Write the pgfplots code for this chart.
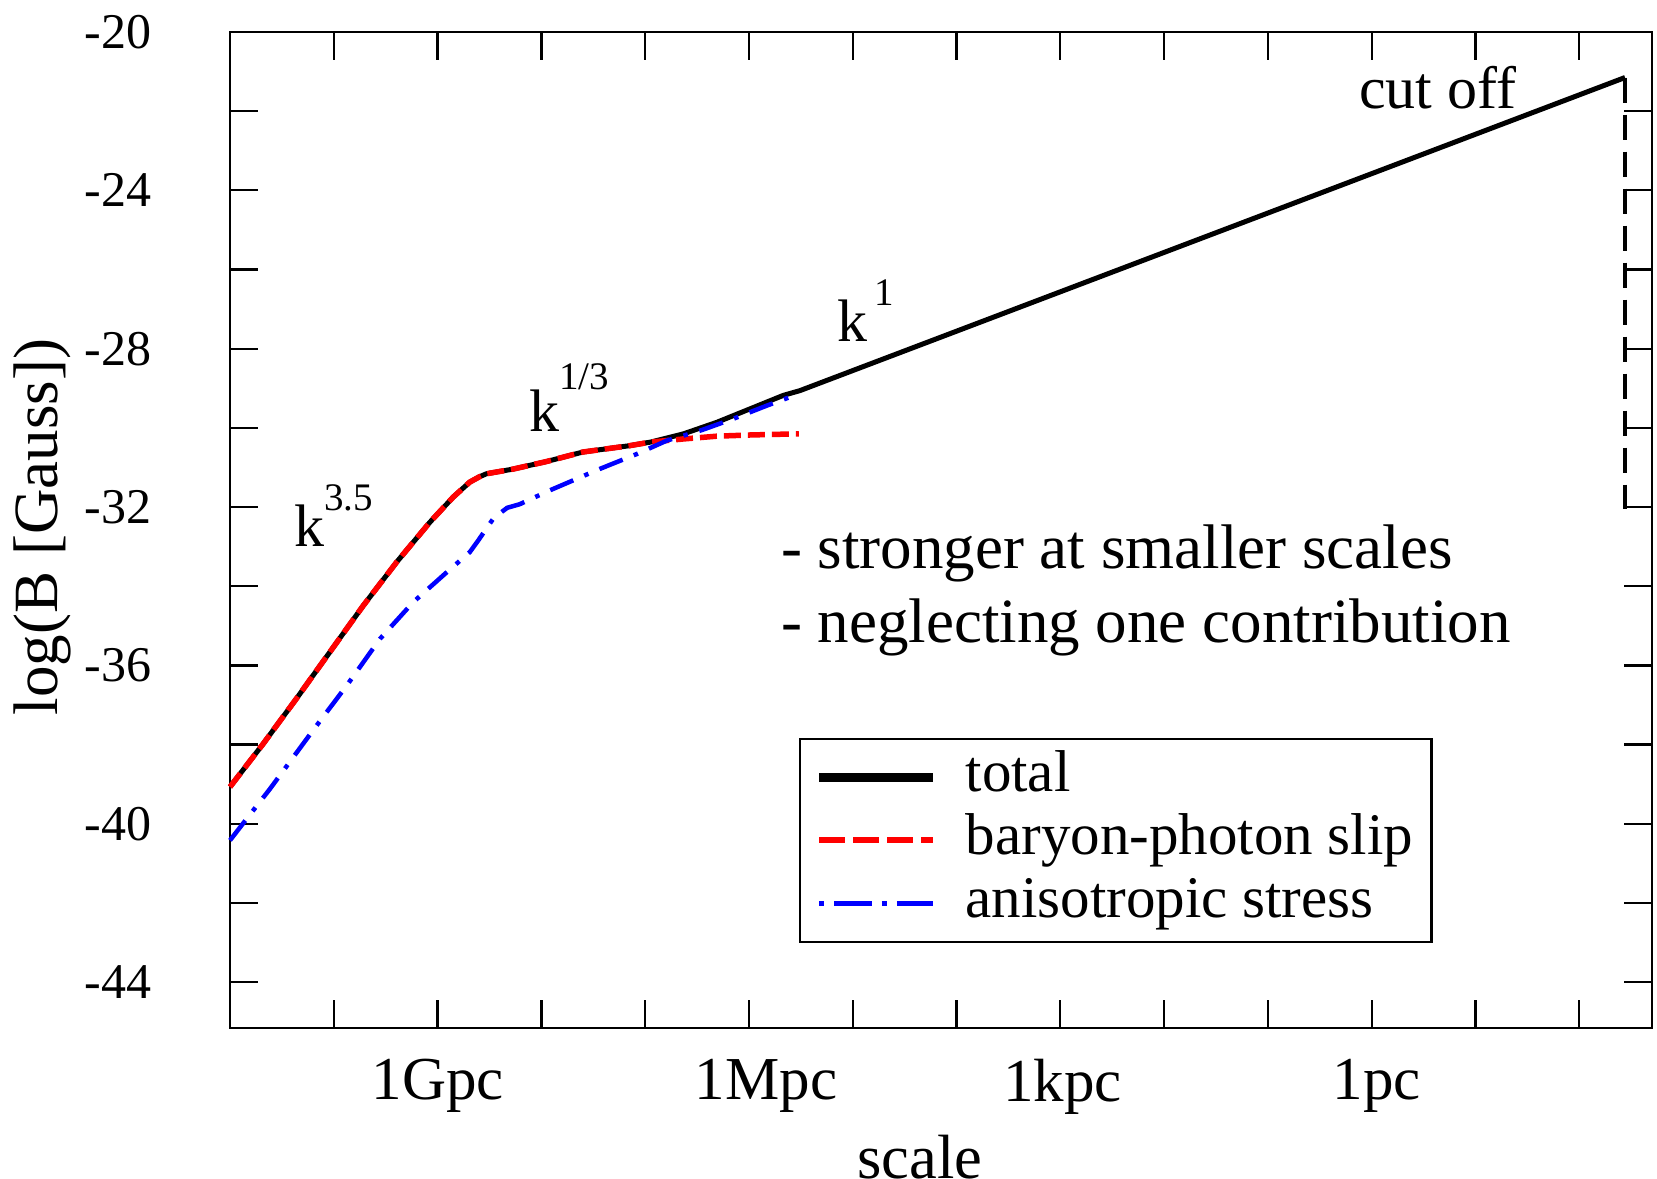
\documentclass[border=0pt]{standalone}
\usepackage{pgfplots}
\pgfplotsset{compat=1.18}
\usepackage{fontspec}
\setmainfont{Liberation Serif}

\begin{document}
\fontsize{12bp}{14bp}\selectfont
\begin{tikzpicture}
\useasboundingbox (-46bp,-30.2bp) rectangle (285.4bp,205.6bp);
\begin{axis}[
  at={(0,0)}, anchor=south west,
  scale only axis, width=284.4bp, height=199.2bp,
  xmin=0, xmax=13.7, ymin=-45.16, ymax=-20,
  clip=false,
  axis line style={line width=0.45bp},
  every tick/.style={black, line width=0.45bp},
  major tick length=5.6bp, minor tick length=5.6bp,
  tick align=inside,
  xtick={1,...,13},
  xticklabels={{},1Gpc\hspace{1.7bp},{},{},\hspace{6.8bp}1Mpc,{},{},\hspace{0.8bp}1kpc,{},{},\hspace{2bp}1pc,{},{}},
  ytick={-44,-40,-36,-32,-28,-24,-20},
  yticklabels={-44,-40,-36,-32,-28,-24,-20},
  minor ytick={-42,-38,-34,-30,-26,-22},
  x tick label style={font=\fontsize{12.2bp}{14bp}\selectfont, yshift=-2bp},
  y tick label style={font=\fontsize{10bp}{12bp}\selectfont, xshift=-11.5bp},
  xlabel={scale},
  xlabel style={at={(axis description cs:0.485,-0.1295)}, anchor=center, font=\fontsize{12.5bp}{14bp}\selectfont},
  ylabel={log(B [Gauss])},
  ylabel style={at={(axis description cs:-0.1322,0.503)}, anchor=center, font=\fontsize{12.6bp}{14bp}\selectfont},
  legend style={at={(axis description cs:0.400,0.0853)}, anchor=south west,
    draw=black, line width=0.45bp, inner xsep=3bp, inner ysep=1.4bp,
    row sep=0pt, font=\fontsize{11.8bp}{13bp}\selectfont,
    nodes={inner sep=0.7bp, text height=8.4bp, text depth=2.8bp}},
  legend cell align=left,
]

% total
\addplot[black, line width=1bp,
  legend image code/.code={\draw[black, line width=1.8bp] (0bp,0bp) -- (22.8bp,0bp); \path (28bp,0bp);}]
coordinates {
(0,-39.07) (0.32,-37.98) (0.64,-36.84) (0.963,-35.66) (1.284,-34.49) (1.606,-33.39)
(1.927,-32.38) (2.15,-31.75) (2.31,-31.37) (2.40,-31.24) (2.47,-31.16) (2.73,-31.04)
(3.05,-30.85) (3.40,-30.61) (3.85,-30.45) (4.05,-30.36) (4.37,-30.15) (4.69,-29.86)
(5.01,-29.52) (5.33,-29.18) (5.49,-29.06) (13.44,-21.15)
};
\addlegendentry{total}

% baryon-photon slip
\addplot[red, line width=1.1bp, dash pattern=on 3.4bp off 1.4bp,
  legend image code/.code={\draw[red, line width=1.2bp, dash pattern=on 5.2bp off 1.6bp] (0bp,0bp) -- (22.8bp,0bp); \path (28bp,0bp);}]
coordinates {
(0,-39.07) (0.32,-37.98) (0.64,-36.84) (0.963,-35.66) (1.284,-34.49) (1.606,-33.39)
(1.927,-32.38) (2.15,-31.75) (2.31,-31.37) (2.40,-31.24) (2.47,-31.16) (2.73,-31.04)
(3.05,-30.85) (3.40,-30.61) (3.85,-30.45) (4.05,-30.36) (4.37,-30.28) (4.69,-30.21)
(5.01,-30.18) (5.48,-30.15)
};
\addlegendentry{baryon-photon slip}

% anisotropic stress
\addplot[blue, line width=0.9bp, dash pattern=on 5bp off 2.4bp on 0.9bp off 2.4bp,
  legend image code/.code={\draw[blue, line width=1bp, dash pattern=on 1bp off 2bp on 7.5bp off 2bp] (0bp,0bp) -- (22.8bp,0bp); \path (28bp,0bp);}]
coordinates {
(0,-40.42) (0.112,-40.04) (0.385,-39.12) (0.80,-37.64) (1.124,-36.51) (1.445,-35.33)
(1.766,-34.40) (2.087,-33.65) (2.31,-33.14) (2.39,-32.85) (2.54,-32.28) (2.67,-32.02)
(2.79,-31.93) (3.08,-31.58) (3.56,-31.04) (3.92,-30.66) (4.21,-30.32) (4.53,-30.07)
(4.85,-29.77) (5.17,-29.44) (5.48,-29.14)
};
\addlegendentry{anisotropic stress}

% cut off
\addplot[black, line width=0.8bp, dash pattern=on 5bp off 2.4bp, forget plot]
coordinates {(13.44,-21.15) (13.44,-32.05)};

\node[anchor=base west, inner sep=0] at (axis cs:10.87,-21.92) {cut off};
\node[anchor=base west, inner sep=0] at (axis cs:0.61,-33.0) {k\raisebox{7.3bp}{\fontsize{7.8bp}{9bp}\selectfont 3.5}};
\node[anchor=base west, inner sep=0] at (axis cs:2.875,-30.09) {k\raisebox{8.3bp}{\fontsize{7.8bp}{9bp}\selectfont 1/3}};
\node[anchor=base west, inner sep=0] at (axis cs:5.84,-27.82) {k\kern1.5bp\raisebox{7.3bp}{\fontsize{7.8bp}{9bp}\selectfont 1}};
\node[anchor=base west, inner sep=0, font=\fontsize{12.6bp}{14bp}\selectfont] at (axis cs:5.30,-33.54) {- stronger at smaller scales};
\node[anchor=base west, inner sep=0, font=\fontsize{12.6bp}{14bp}\selectfont] at (axis cs:5.30,-35.43) {- neglecting one contribution};
\end{axis}
\end{tikzpicture}
\end{document}
